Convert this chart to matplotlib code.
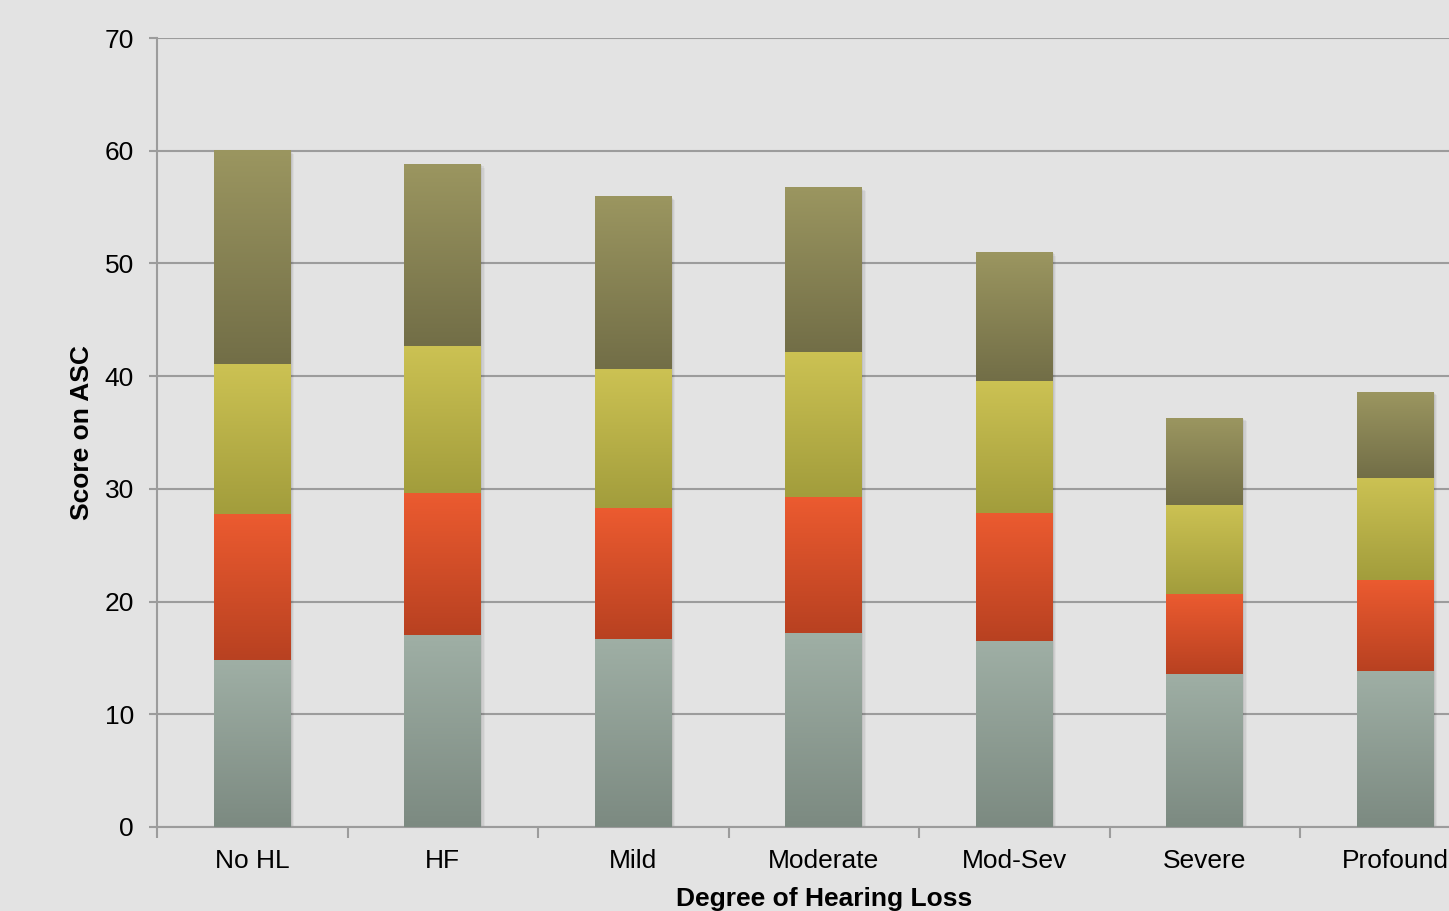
import matplotlib
matplotlib.use('Agg')

import matplotlib.pyplot as plt
import numpy as np
from matplotlib.colors import LinearSegmentedColormap

plt.rcParams['font.family'] = ['Liberation Sans', 'DejaVu Sans']

# data (stacked segments, bottom to top)
categories = ['No HL', 'HF', 'Mild', 'Moderate', 'Mod-Sev', 'Severe', 'Profound']
seg1 = [14.8, 17.0, 16.7, 17.2, 16.5, 13.6, 13.8]
seg2 = [13.0, 12.6, 11.6, 12.1, 11.4, 7.1, 8.1]
seg3 = [13.3, 13.1, 12.3, 12.8, 11.7, 7.9, 9.1]
seg4 = [18.9, 16.1, 15.3, 14.6, 11.4, 7.7, 7.6]

# gradient colours (top, bottom) per segment
grads = [('#9fafa5', '#7c8a81'),
         ('#ec5b30', '#b84121'),
         ('#ccc253', '#a29d3c'),
         ('#9b9660', '#726e47')]

bg = '#e3e3e3'
grid_c = '#9c9c9c'

fig = plt.figure(figsize=(14.49, 9.11), dpi=100, facecolor=bg)
ax = fig.add_axes([157 / 1449, 84 / 911, 1333.5 / 1449, 789 / 911], facecolor=bg)

x = np.arange(len(categories))
width = 0.404
bottoms = np.zeros(len(categories))
totals = np.array(seg1) + np.array(seg2) + np.array(seg3) + np.array(seg4)

# soft shadow behind each full stack
for k, a in enumerate([0.06, 0.05, 0.04]):
    off = 0.006 * (k + 1)
    ax.bar(x + off, totals + 0.05 * (k + 1), width, bottom=-0.15 * (k + 1),
           color='black', alpha=a, linewidth=0, zorder=2)

grad = np.linspace(0, 1, 256).reshape(-1, 1)
for vals, (top_c, bot_c) in zip([seg1, seg2, seg3, seg4], grads):
    cmap = LinearSegmentedColormap.from_list('g', [bot_c, top_c])
    bars = ax.bar(x, vals, width, bottom=bottoms, color=top_c, linewidth=0, zorder=3)
    for b in bars:
        bx, by, bw, bh = b.get_x(), b.get_y(), b.get_width(), b.get_height()
        ax.imshow(grad, extent=[bx, bx + bw, by, by + bh], origin='lower',
                  cmap=cmap, aspect='auto', zorder=4, interpolation='bilinear')
    bottoms += np.array(vals)

ax.set_xlim(-0.5, 6.5)
ax.set_ylim(0, 70)
ax.set_yticks(range(0, 71, 10))
ax.yaxis.grid(True, color=grid_c, linewidth=1.5)
ax.set_axisbelow(True)

ax.set_xticks(x)
ax.set_xticklabels(categories)
ax.set_xticks(np.arange(-0.5, 7, 1), minor=True)
ax.tick_params(axis='x', which='major', length=0, pad=16, labelsize=19)
ax.tick_params(axis='x', which='minor', length=8, width=1.5, color=grid_c, direction='out')
ax.tick_params(axis='y', length=6, width=1.5, color=grid_c, pad=10.5, labelsize=19)

for s in ['top', 'right']:
    ax.spines[s].set_visible(False)
for s in ['left', 'bottom']:
    ax.spines[s].set_color(grid_c)
    ax.spines[s].set_linewidth(1.5)

ax.set_xlabel('Degree of Hearing Loss', fontsize=19, fontweight='bold', labelpad=10)
ax.set_ylabel('Score on ASC', fontsize=19, fontweight='bold', labelpad=8)

fig.savefig('out.png', dpi=100, facecolor=bg)
